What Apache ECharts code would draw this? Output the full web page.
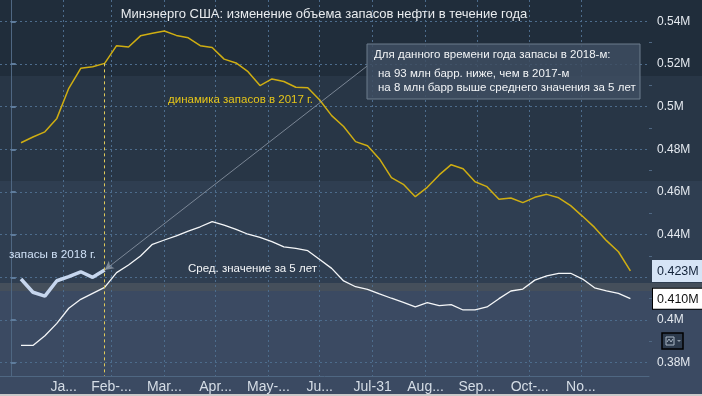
<!DOCTYPE html>
<html><head><meta charset="utf-8">
<script src="https://cdn.jsdelivr.net/npm/echarts@6/dist/echarts.min.js"></script>
<style>
html,body{margin:0;padding:0;}
body{width:702px;height:396px;overflow:hidden;
background:linear-gradient(to bottom,#202d3b 0px,#202d3b 76px,#283646 76px,#283646 181px,#2f3e51 181px,#2f3e51 283px,#454f5b 283px,#454f5b 291px,#3b4a62 291px,#3b4a62 394px,#c9c9c9 394px,#c9c9c9 396px);}
#c{width:702px;height:396px;}
</style>
</head><body><div id="c"></div>
<script>
// ---- data ----
const chartTitle = 'Минэнерго США: изменение объема запасов нефти в течение года';
// weekly report dates, as day-of-year
const weekDays = [6,13,20,27,34,41,48,55,62,69,76,83,90,97,104,111,118,125,132,139,146,153,160,167,174,181,188,195,202,209,216,223,230,237,244,251,258,265,272,279,286,293,300,307,314,321,328,335,342,349,356,363];
const stocks2017 = [0.4831,0.4858,0.4882,0.4945,0.5086,0.5180,0.5187,0.5203,0.5286,0.5280,0.5332,0.5344,0.5355,0.5334,0.5323,0.5286,0.5277,0.5223,0.5205,0.5164,0.5099,0.5130,0.5118,0.5091,0.5089,0.5031,0.4958,0.4907,0.4836,0.4817,0.4755,0.4667,0.4636,0.4578,0.4622,0.4680,0.4728,0.4709,0.4648,0.4625,0.4566,0.4572,0.4550,0.4575,0.4589,0.4573,0.4536,0.4486,0.4434,0.4372,0.4320,0.423];
const avg5y = [0.3881,0.3881,0.3926,0.3984,0.4055,0.4097,0.4125,0.4153,0.4222,0.4258,0.4300,0.4355,0.4375,0.4394,0.4417,0.4437,0.4461,0.4445,0.4425,0.4402,0.4387,0.4367,0.4343,0.4336,0.4325,0.4284,0.4242,0.4183,0.4156,0.4144,0.4122,0.4102,0.4083,0.4062,0.4081,0.4067,0.4072,0.4047,0.4047,0.4061,0.4100,0.4136,0.4145,0.4187,0.4207,0.4219,0.4219,0.4192,0.4151,0.4137,0.4125,0.410];
const stocks2018 = [0.4192,0.4130,0.4112,0.4184,0.4203,0.4226,0.4200,0.4234];
const xTickDays = [0,31,59,90,120,151,181,212,243,273,304,334];
const xTickLabels = ['','Ja...','Feb-...','Mar...','Apr...','May-...','Ju...','Jul-31','Aug...','Sep...','Oct-...','No...'];
const yTicks = [0.38,0.40,0.42,0.44,0.46,0.48,0.50,0.52,0.54];
const yMinorTicks = [0.39,0.41,0.43,0.45,0.47,0.49,0.51,0.53];
const annotLines = ['Для данного времени года запасы в 2018-м:','на 93 млн барр. ниже, чем в 2017-м','на 8 млн барр выше среднего значения за 5 лет'];
const label2017 = 'динамика запасов в 2017 г.';
const labelAvg = 'Сред. значение за 5 лет';
const label2018 = 'запасы в 2018 г.';
const annotAnchor = [208.7, 0.519];

const X_MIN = -6.3, X_MAX = 373.9, Y_MIN = 0.37375, Y_MAX = 0.55;
const FONT = '"Liberation Sans", Arial, sans-serif';
const zip = (xs, ys) => ys.map((v, i) => [xs[i], v]);
const cur = stocks2018.length - 1;
const last2017 = stocks2017[stocks2017.length - 1];
const lastAvg = avg5y[avg5y.length - 1];

const chart = echarts.init(document.getElementById('c'), null, {renderer: 'canvas'});

chart.setOption({
  backgroundColor: 'transparent',
  animation: false,
  textStyle: {fontFamily: FONT},
  grid: {left: 0, right: 53, top: 0, bottom: 20, containLabel: false, outerBoundsMode: 'none'},
  xAxis: {
    type: 'value', min: X_MIN, max: X_MAX,
    axisLine: {show: true, lineStyle: {color: '#4f6782', width: 1}},
    axisTick: {show: false, customValues: xTickDays},
    axisLabel: {customValues: xTickDays.slice(1), formatter: v => xTickLabels[xTickDays.indexOf(v)] || '',
      color: '#d5dde6', fontSize: 14, margin: 4, fontFamily: FONT},
    splitLine: {show: true, lineStyle: {color: '#4d6c8c', type: [2, 3], width: 1}}
  },
  yAxis: [{
    type: 'value', position: 'right', min: Y_MIN, max: Y_MAX,
    axisLine: {show: true, lineStyle: {color: '#4f6782', width: 1}},
    axisTick: {show: true, customValues: yTicks, length: 5, lineStyle: {color: '#5f7c9c', width: 2}},
    axisLabel: {customValues: yTicks, formatter: v => parseFloat(v.toFixed(2)) + 'M',
      color: '#e4e9ef', fontSize: 12, margin: 8, fontFamily: FONT},
    splitLine: {show: true, lineStyle: {color: '#4d6c8c', type: [2, 3], width: 1}}
  }, {
    type: 'value', position: 'right', min: Y_MIN, max: Y_MAX,
    axisLine: {show: false},
    axisTick: {show: true, customValues: yMinorTicks, length: 3, lineStyle: {color: '#4f6782', width: 1}},
    axisLabel: {show: false},
    splitLine: {show: false}
  }, {
    type: 'value', position: 'right', min: Y_MIN, max: Y_MAX, z: 5,
    axisLine: {show: false},
    axisTick: {show: false, customValues: [last2017, lastAvg]},
    axisLabel: {customValues: [last2017, lastAvg], margin: 4,
      formatter: v => (Math.abs(v - lastAvg) < 1e-9 ? '{w|' : '{b|') + v.toFixed(3) + 'M}',
      rich: {
        w: {backgroundColor: '#ffffff', borderColor: '#000000', borderWidth: 1, color: '#111111',
            padding: [4, 6, 3, 4], fontSize: 12.5, fontFamily: FONT},
        b: {backgroundColor: '#d6e4f6', color: '#13233a', borderColor: '#d6e4f6', borderWidth: 1,
            padding: [4, 6, 3, 4], fontSize: 12.5, fontFamily: FONT}
      }},
    splitLine: {show: false}
  }],
  series: [{
    name: labelAvg, type: 'line', data: zip(weekDays, avg5y), clip: false,
    showSymbol: false, symbol: 'none', lineStyle: {color: '#f4f6f8', width: 1.3}
  }, {
    name: label2017, type: 'line', data: zip(weekDays, stocks2017), clip: false,
    showSymbol: false, symbol: 'none', lineStyle: {color: '#cfae12', width: 1.5},
    markLine: {silent: true, symbol: ['none', 'none'], animation: false,
      data: [
        [{coord: [weekDays[cur], stocks2017[cur]], lineStyle: {color: '#e2cc5a', type: [3, 3], width: 1}, label: {show: false}},
         {coord: [weekDays[cur], Y_MIN]}]
      ]}
  }, {
    name: label2018, type: 'line', data: zip(weekDays, stocks2018), clip: false,
    showSymbol: false, symbol: 'none', lineStyle: {color: '#c6d6ee', width: 3.5}, z: 3,
    markLine: {silent: true, symbol: ['none', 'arrow'], symbolSize: [7, 9], animation: false,
      lineStyle: {color: 'rgba(150,160,175,0.75)', width: 1, type: 'solid'},
      label: {show: false},
      data: [[{coord: annotAnchor}, {coord: [weekDays[cur], stocks2018[cur]]}]]}
  }],
  graphic: [
    {type: 'text', x: 324, y: 14, z: 20, style: {text: chartTitle, fill: '#e9ecef', font: '13px ' + FONT, textAlign: 'center', textVerticalAlign: 'middle'}},
    {type: 'rect', x: 367, y: 44, z: 20, shape: {width: 273, height: 55}, style: {fill: 'rgba(62,78,98,0.85)', stroke: '#6d7c8d', lineWidth: 1}},
    {type: 'text', x: 374, y: 55, z: 21, style: {text: annotLines[0], fill: '#f2f4f6', font: '11.5px ' + FONT, textVerticalAlign: 'middle'}},
    {type: 'text', x: 378, y: 73.5, z: 21, style: {text: annotLines[1], fill: '#f2f4f6', font: '11.5px ' + FONT, textVerticalAlign: 'middle'}},
    {type: 'text', x: 378, y: 87.5, z: 21, style: {text: annotLines[2], fill: '#f2f4f6', font: '11.5px ' + FONT, textVerticalAlign: 'middle'}},
    {type: 'text', x: 168, y: 100, z: 20, style: {text: label2017, fill: '#e5c51a', font: '11.5px ' + FONT, textVerticalAlign: 'middle'}},
    {type: 'text', x: 188, y: 268.5, z: 20, style: {text: labelAvg, fill: '#f4f6f8', font: '11.5px ' + FONT, textVerticalAlign: 'middle'}},
    {type: 'text', x: 9, y: 255, z: 20, style: {text: label2018, fill: '#cfe0f6', font: '11.7px ' + FONT, textVerticalAlign: 'middle'}},
    {type: 'group', x: 662, y: 333, z: 20, children: [
      {type: 'rect', shape: {x: 0, y: 0, width: 21, height: 16}, style: {fill: '#2c3a4c', stroke: '#000000', lineWidth: 1.5}},
      {type: 'rect', shape: {x: 4, y: 4, width: 8, height: 8}, style: {fill: 'none', stroke: '#a9b6c4', lineWidth: 1}},
      {type: 'polyline', shape: {points: [[5, 9], [7, 6], [9, 9], [11, 6]]}, style: {fill: 'none', stroke: '#a9b6c4', lineWidth: 1}},
      {type: 'polygon', shape: {points: [[15, 7], [19, 7], [17, 9]]}, style: {fill: '#8b97a5'}}
    ]}
  ]
});
</script>
</body></html>
